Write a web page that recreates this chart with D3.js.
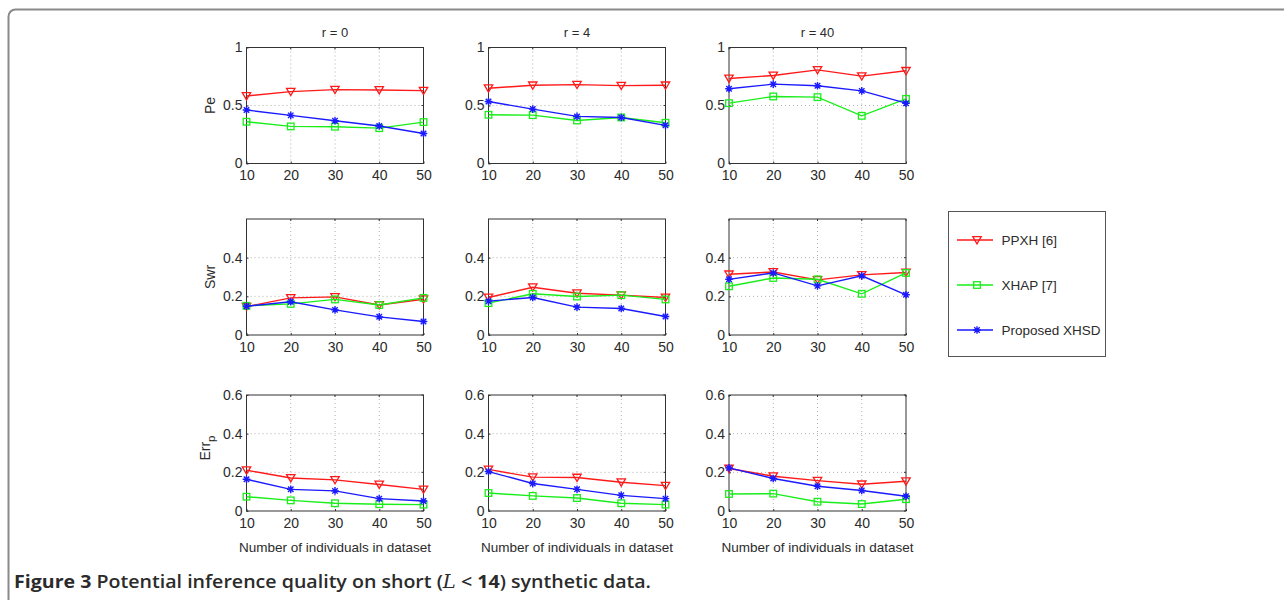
<!DOCTYPE html>
<html>
<head>
<meta charset="utf-8">
<script src="https://cdn.jsdelivr.net/npm/d3@7"></script>
<style>
  html, body { margin: 0; padding: 0; background: #fff; }
  svg { display: block; }
  text { font-family: "Liberation Sans", Arial, Helvetica, sans-serif; fill: #2b2b2b; }
</style>
</head>
<body>
<svg id="chart" width="1284" height="600"></svg>
<script>
// ---------------- DATA ----------------
const xValues = [10, 20, 30, 40, 50];
const columnTitles = ["r = 0", "r = 4", "r = 40"];
const seriesNames = ["PPXH [6]", "XHAP [7]", "Proposed XHSD"];
const xLabel = "Number of individuals in dataset";

// Row 1: Pe (one array per r = 0, 4, 40)
const pePPXH = [[0.582, 0.620, 0.637, 0.634, 0.628], [0.649, 0.674, 0.680, 0.671, 0.674], [0.733, 0.759, 0.807, 0.753, 0.799]];
const peXHAP = [[0.360, 0.320, 0.317, 0.305, 0.357], [0.420, 0.417, 0.371, 0.397, 0.351], [0.520, 0.578, 0.572, 0.411, 0.557]];
const peXHSD = [[0.461, 0.415, 0.369, 0.323, 0.259], [0.534, 0.469, 0.406, 0.397, 0.329], [0.644, 0.684, 0.670, 0.626, 0.520]];

// Row 2: Swr
const swrPPXH = [[0.147, 0.192, 0.197, 0.155, 0.185], [0.194, 0.247, 0.216, 0.206, 0.194], [0.314, 0.326, 0.285, 0.311, 0.323]];
const swrXHAP = [[0.151, 0.161, 0.184, 0.155, 0.192], [0.165, 0.213, 0.199, 0.206, 0.184], [0.252, 0.295, 0.288, 0.213, 0.321]];
const swrXHSD = [[0.149, 0.172, 0.130, 0.094, 0.070], [0.175, 0.194, 0.144, 0.137, 0.096], [0.288, 0.321, 0.254, 0.306, 0.208]];

// Row 3: Err_p
const errPPXH = [[0.211, 0.171, 0.161, 0.137, 0.112], [0.215, 0.175, 0.173, 0.149, 0.131], [0.220, 0.180, 0.157, 0.138, 0.154]];
const errXHAP = [[0.074, 0.055, 0.040, 0.035, 0.033], [0.093, 0.078, 0.067, 0.040, 0.033], [0.088, 0.090, 0.048, 0.036, 0.061]];
const errXHSD = [[0.164, 0.112, 0.104, 0.064, 0.052], [0.204, 0.142, 0.112, 0.081, 0.064], [0.223, 0.168, 0.128, 0.106, 0.076]];

// Y ticks per row
const peTicks = [0, 0.5, 1];
const swrTicks = [0, 0.2, 0.4];
const errTicks = [0, 0.2, 0.4, 0.6];

// ---------------- LAYOUT ----------------
const colLefts = [246.5, 488.5, 729];
const rowTops = [47.5, 219, 395];
const pw = 177, ph = 116;
const colors = ["#ff1a1a", "#1aee1a", "#1a1aff"];

const rows = [
  { label: "Pe", domain: [0, 1], ticks: peTicks, grid: [0.5], series: [pePPXH, peXHAP, peXHSD] },
  { label: "Swr", domain: [0, 0.6], ticks: swrTicks, grid: [0.2, 0.4], series: [swrPPXH, swrXHAP, swrXHSD] },
  { label: "Err", sub: "p", domain: [0, 0.6], ticks: errTicks, grid: [0.2, 0.4], series: [errPPXH, errXHAP, errXHSD] }
];

const svg = d3.select("#chart");

// outer rounded frame
svg.append("rect").attr("x", 8.5).attr("y", 9.5).attr("rx", 7).attr("ry", 7)
  .attr("width", 1400).attr("height", 700)
  .attr("fill", "none").attr("stroke", "#8a8a8a").attr("stroke-width", 2);

// marker drawers
function drawMarker(g, type, color) {
  if (type === 0) {
    g.append("path").attr("d", "M-4.2,-3.3L4.2,-3.3L0,3.9Z")
      .attr("fill", "none").attr("stroke", color).attr("stroke-width", 1.3);
  } else if (type === 1) {
    g.append("rect").attr("x", -3.3).attr("y", -3.3).attr("width", 6.6).attr("height", 6.6)
      .attr("fill", "none").attr("stroke", color).attr("stroke-width", 1.3);
  } else {
    const r = 3.8, d = r * 0.72;
    g.append("path").attr("d", `M${-r},0L${r},0M0,${-r}L0,${r}M${-d},${-d}L${d},${d}M${-d},${d}L${d},${-d}`)
      .attr("fill", "none").attr("stroke", color).attr("stroke-width", 1.4);
  }
}

rows.forEach((row, ri) => {
  colLefts.forEach((cl, ci) => {
    const top = rowTops[ri];
    const x = d3.scaleLinear().domain([10, 50]).range([cl, cl + pw]);
    const y = d3.scaleLinear().domain(row.domain).range([top + ph, top]);
    const g = svg.append("g");

    g.append("rect").attr("x", cl).attr("y", top).attr("width", pw).attr("height", ph).attr("fill", "#fff");

    // grid
    xValues.slice(1, -1).forEach(v => {
      g.append("line").attr("x1", x(v)).attr("x2", x(v)).attr("y1", top).attr("y2", top + ph)
        .attr("stroke", "#b0b0b0").attr("stroke-width", 1).attr("stroke-dasharray", "1,3");
    });
    row.grid.forEach(v => {
      g.append("line").attr("x1", cl).attr("x2", cl + pw).attr("y1", y(v)).attr("y2", y(v))
        .attr("stroke", "#b0b0b0").attr("stroke-width", 1).attr("stroke-dasharray", "1,3");
    });

    // axes
    const xa = g.append("g").attr("transform", `translate(0,${top + ph})`)
      .call(d3.axisBottom(x).tickValues(xValues).tickSizeInner(-2).tickSizeOuter(0).tickPadding(7).tickFormat(d3.format("d")));
    const ya = g.append("g").attr("transform", `translate(${cl},0)`)
      .call(d3.axisLeft(y).tickValues(row.ticks).tickSizeInner(-2).tickSizeOuter(0).tickPadding(4).tickFormat(d => String(d)));
    [xa, ya].forEach(a => {
      a.select(".domain").remove();
      a.selectAll("line").attr("stroke", "#333");
      a.selectAll("text").attr("font-size", 14).attr("fill", "#2b2b2b")
        .style("font-family", '"Liberation Sans", Arial, sans-serif');
    });
    xValues.forEach(v => g.append("line").attr("x1", x(v)).attr("x2", x(v)).attr("y1", top).attr("y2", top + 2).attr("stroke", "#333"));
    row.ticks.forEach(v => g.append("line").attr("x1", cl + pw).attr("x2", cl + pw - 2).attr("y1", y(v)).attr("y2", y(v)).attr("stroke", "#333"));

    // box
    g.append("rect").attr("x", cl).attr("y", top).attr("width", pw).attr("height", ph)
      .attr("fill", "none").attr("stroke", "#333").attr("stroke-width", 1);

    // series
    row.series.forEach((s, si) => {
      const vals = s[ci];
      const line = d3.line().x((d, i) => x(xValues[i])).y(d => y(d));
      g.append("path").datum(vals).attr("d", line)
        .attr("fill", "none").attr("stroke", colors[si]).attr("stroke-width", 1.4);
      vals.forEach((v, i) => {
        const mg = g.append("g").attr("transform", `translate(${x(xValues[i])},${y(v)})`);
        drawMarker(mg, si, colors[si]);
      });
    });

    if (ri === 0) {
      svg.append("text").attr("x", cl + pw / 2).attr("y", top - 10.5)
        .attr("text-anchor", "middle").attr("font-size", 13).text(columnTitles[ci]);
    }
    if (ri === 2) {
      svg.append("text").attr("x", cl + pw / 2).attr("y", 552)
        .attr("text-anchor", "middle").attr("font-size", 13.5).text(xLabel);
    }
    if (ci === 0) {
      const t = svg.append("text")
        .attr("transform", `translate(${row.sub ? 210 : 215},${row.sub ? top + ph / 2 - 5 : top + ph / 2}) rotate(-90)`)
        .attr("text-anchor", "middle").attr("font-size", 14);
      t.append("tspan").text(row.label);
      if (row.sub) t.append("tspan").attr("dy", 5).attr("font-size", 11.5).text(row.sub);
    }
  });
});

// legend
const lg = svg.append("g");
lg.append("rect").attr("x", 948.5).attr("y", 211.5).attr("width", 157).attr("height", 145)
  .attr("fill", "#fff").attr("stroke", "#555").attr("stroke-width", 1);
const legendY = d3.scalePoint().domain(seriesNames).range([240, 330]);
seriesNames.forEach((n, i) => {
  const yy = legendY(n);
  lg.append("line").attr("x1", 957).attr("x2", 993).attr("y1", yy).attr("y2", yy)
    .attr("stroke", colors[i]).attr("stroke-width", 1.4);
  drawMarker(lg.append("g").attr("transform", `translate(977,${yy})`), i, colors[i]);
  lg.append("text").attr("x", 1001.5).attr("y", yy + 4.8).attr("font-size", 13.5).text(n);
});

// caption
const cap = svg.append("text").attr("x", 14).attr("y", 588)
  .attr("font-size", 18).style("font-family", '"Open Sans", "Noto Sans", sans-serif')
  .attr("fill", "#1a1a1a")
  .attr("textLength", 637).attr("lengthAdjust", "spacingAndGlyphs");
cap.append("tspan").attr("font-weight", 700).text("Figure 3");
cap.append("tspan").attr("font-weight", 600).text(" Potential inference quality on short (");
cap.append("tspan").attr("font-style", "italic").style("font-family", '"DejaVu Serif", serif').attr("font-weight", 400).text("L");
cap.append("tspan").attr("font-weight", 600).text(" < ");
cap.append("tspan").attr("font-weight", 700).text("14");
cap.append("tspan").attr("font-weight", 600).text(") synthetic data.");
</script>
</body>
</html>
